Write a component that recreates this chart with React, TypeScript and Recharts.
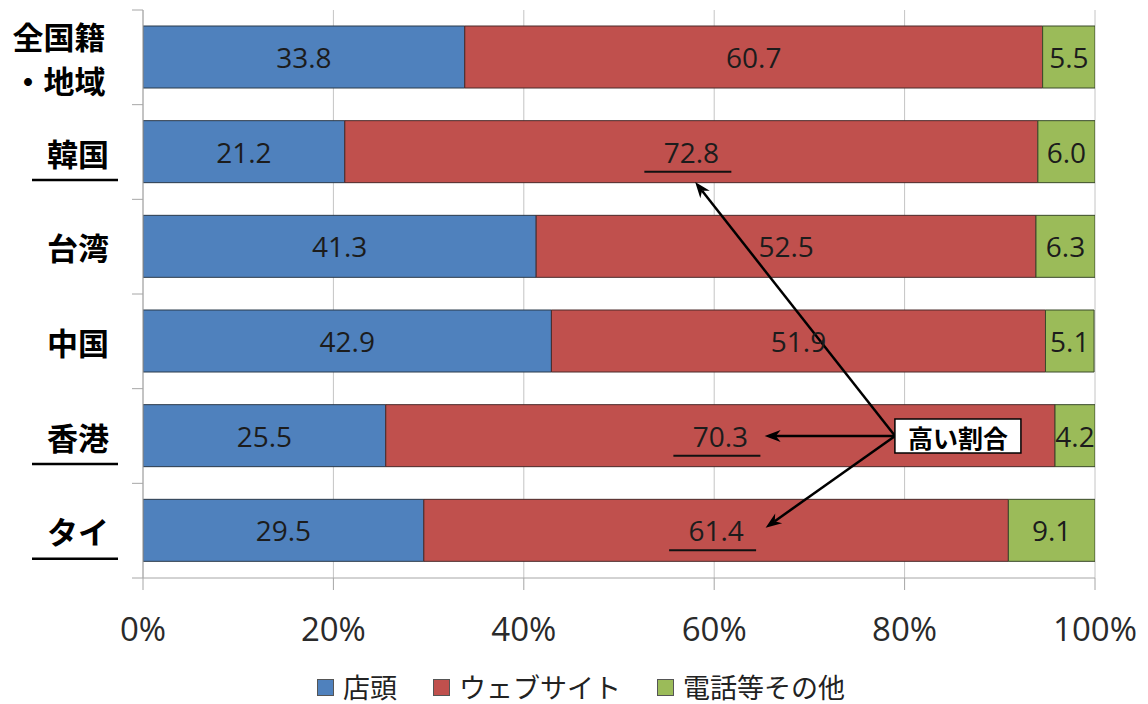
import { BarChart, Bar, XAxis, YAxis, CartesianGrid, Legend, LabelList, ReferenceLine, ReferenceDot } from 'recharts'

const regions = ['全国籍・地域', '韓国', '台湾', '中国', '香港', 'タイ']
const seriesNames = ['店頭', 'ウェブサイト', '電話等その他']
const storeFront = [33.8, 21.2, 41.3, 42.9, 25.5, 29.5]
const website = [60.7, 72.8, 52.5, 51.9, 70.3, 61.4]
const phoneOther = [5.5, 6.0, 6.3, 5.1, 4.2, 9.1]
const xTicks = [0, 20, 40, 60, 80, 100]
const underlined = ['韓国', '香港', 'タイ']
const calloutText = '高い割合'

const W = 1148
const H = 704
const TOP = 10
const XAXIS_H = 80
const LEGEND_H = 46
const PLOT_H = H - TOP - XAXIS_H - LEGEND_H
const BAND = PLOT_H / regions.length

const JP = '"Noto Sans CJK JP", sans-serif'
const NUM = '"Open Sans", sans-serif'
const AXIS = '#a6a6a6'

const data = regions.map((r, i) => ({
  region: r,
  store: storeFront[i],
  web: website[i],
  phone: phoneOther[i],
}))

const fmt = (v: any) => Number(v).toFixed(1)

function RegionTick(props: any) {
  const { x, y, payload, index } = props
  const label: string = payload.value
  const isLast = index === regions.length - 1
  const lines = label.includes('・') ? [label.slice(0, label.indexOf('・')), label.slice(label.indexOf('・'))] : [label]
  return (
    <g>
      <line x1={132} x2={143} y1={y - BAND / 2} y2={y - BAND / 2} stroke={AXIS} />
      {isLast && <line x1={132} x2={143} y1={y + BAND / 2} y2={y + BAND / 2} stroke={AXIS} />}
      {lines.length > 1 ? (
        lines.map((l, i) => (
          <text key={i} x={x - 50} y={y + (i === 0 ? -22 : 22)} textAnchor="middle" dominantBaseline="central"
            fontFamily={JP} fontWeight={700} fontSize={31} fill="#000">{l}</text>
        ))
      ) : (
        <text x={x} y={y} textAnchor="end" dominantBaseline="central" fontFamily={JP} fontWeight={700} fontSize={31} fill="#000">{label}</text>
      )}
      {underlined.includes(label) && <line x1={32} x2={118} y1={y + 28} y2={y + 28} stroke="#000" strokeWidth={2.5} />}
    </g>
  )
}

function makeLabel(highlight: boolean) {
  return (props: any) => {
    const vb = props.viewBox || props
    const { x, y, width, height } = vb
    const { value, index } = props
    const cx = x + width / 2
    const cy = y + height / 2
    const hi = highlight && underlined.includes(regions[index])
    return (
      <g>
        <text x={cx} y={cy} textAnchor="middle" dominantBaseline="central" fontFamily={NUM} fontSize={28} fill="#1c1c1c">
          {fmt(value)}
        </text>
        {hi && <line x1={cx - 47} x2={cx + 40} y1={cy + 20} y2={cy + 20} stroke="#111" strokeWidth={2} />}
      </g>
    )
  }
}

function arrow(dy: number) {
  return (p: any) => {
    const x1 = p.x1, y1 = p.y1, x2 = p.x2, y2 = p.y2 + dy
    const a = Math.atan2(y2 - y1, x2 - x1)
    const len = 16, half = 6
    const bx = x2 - len * Math.cos(a), by = y2 - len * Math.sin(a)
    const nx = -Math.sin(a), ny = Math.cos(a)
    const nX = x2 - len * 0.7 * Math.cos(a), nY = y2 - len * 0.7 * Math.sin(a)
    return (
      <g>
        <line x1={x1} y1={y1} x2={nX} y2={nY} stroke="#000" strokeWidth={2.5} />
        <polygon points={`${x2},${y2} ${bx + nx * half},${by + ny * half} ${nX},${nY} ${bx - nx * half},${by - ny * half}`} fill="#000" />
      </g>
    )
  }
}

function CalloutBox(p: any) {
  const { cx, cy } = p
  return (
    <g>
      <rect x={cx - 63} y={cy - 17} width={126} height={34} fill="#fff" stroke="#000" strokeWidth={1.5} />
      <text x={cx} y={cy + 1} textAnchor="middle" dominantBaseline="central" fontFamily={JP} fontWeight={700} fontSize={25} fill="#000">
        {calloutText}
      </text>
    </g>
  )
}

function LegendContent(props: any) {
  const items = [...(props.payload || [])].sort(
    (a: any, b: any) => seriesNames.indexOf(a.value) - seriesNames.indexOf(b.value)
  )
  return (
    <div style={{ display: 'flex', justifyContent: 'center', alignItems: 'center', gap: 36, height: LEGEND_H, paddingLeft: 14, paddingTop: 12, boxSizing: 'border-box', fontFamily: JP, fontSize: 27, lineHeight: '34px', color: '#222' }}>
      {items.map((it: any) => (
        <span key={it.value} style={{ display: 'flex', alignItems: 'center' }}>
          <span style={{ width: 15, height: 15, background: it.color, border: '1px solid #555', marginRight: 9 }} />
          {it.value}
        </span>
      ))}
    </div>
  )
}

export default function App() {
  return (
    <div style={{ position: 'absolute', left: 0, top: 0, width: W, height: H, background: '#fff' }}>
      <BarChart width={W} height={H} data={data} layout="vertical" margin={{ top: TOP, right: 53, left: 0, bottom: 0 }}>
        <CartesianGrid horizontal={false} stroke="#c4c4c4" />
        <XAxis type="number" domain={[0, 100]} allowDataOverflow ticks={xTicks} tickFormatter={(v) => `${v}%`}
          height={XAXIS_H} stroke={AXIS} tickSize={12} tickMargin={28}
          tick={{ fill: '#2a2a2a', fontSize: 33, fontFamily: NUM }} />
        <YAxis type="category" dataKey="region" width={143} stroke={AXIS} tickLine={false} tickSize={0} tickMargin={34}
          tick={<RegionTick />} interval={0} />
        <Legend verticalAlign="bottom" height={LEGEND_H} content={<LegendContent />} wrapperStyle={{ left: 0, width: W }} />
        <Bar dataKey="store" name={seriesNames[0]} stackId="a" fill="#4f81bd" stroke="#2b3a4a" strokeWidth={1} barSize={62} isAnimationActive={false}>
          <LabelList dataKey="store" content={makeLabel(false)} />
        </Bar>
        <Bar dataKey="web" name={seriesNames[1]} stackId="a" fill="#c0504d" stroke="#4a2a2a" strokeWidth={1} barSize={62} isAnimationActive={false}>
          <LabelList dataKey="web" content={makeLabel(true)} />
        </Bar>
        <Bar dataKey="phone" name={seriesNames[2]} stackId="a" fill="#9bbb59" stroke="#3a4a2a" strokeWidth={1} barSize={62} isAnimationActive={false}>
          <LabelList dataKey="phone" content={makeLabel(false)} />
        </Bar>
        <ReferenceLine segment={[{ x: 79, y: '香港' }, { x: 58, y: '韓国' }]} ifOverflow="visible" shape={arrow(30)} />
        <ReferenceLine segment={[{ x: 79, y: '香港' }, { x: 65.3, y: '香港' }]} ifOverflow="visible" shape={arrow(0)} />
        <ReferenceLine segment={[{ x: 79, y: '香港' }, { x: 65.4, y: 'タイ' }]} ifOverflow="visible" shape={arrow(-3)} />
        <ReferenceDot x={85.6} y="香港" r={0} ifOverflow="visible" shape={<CalloutBox />} />
      </BarChart>
    </div>
  )
}
